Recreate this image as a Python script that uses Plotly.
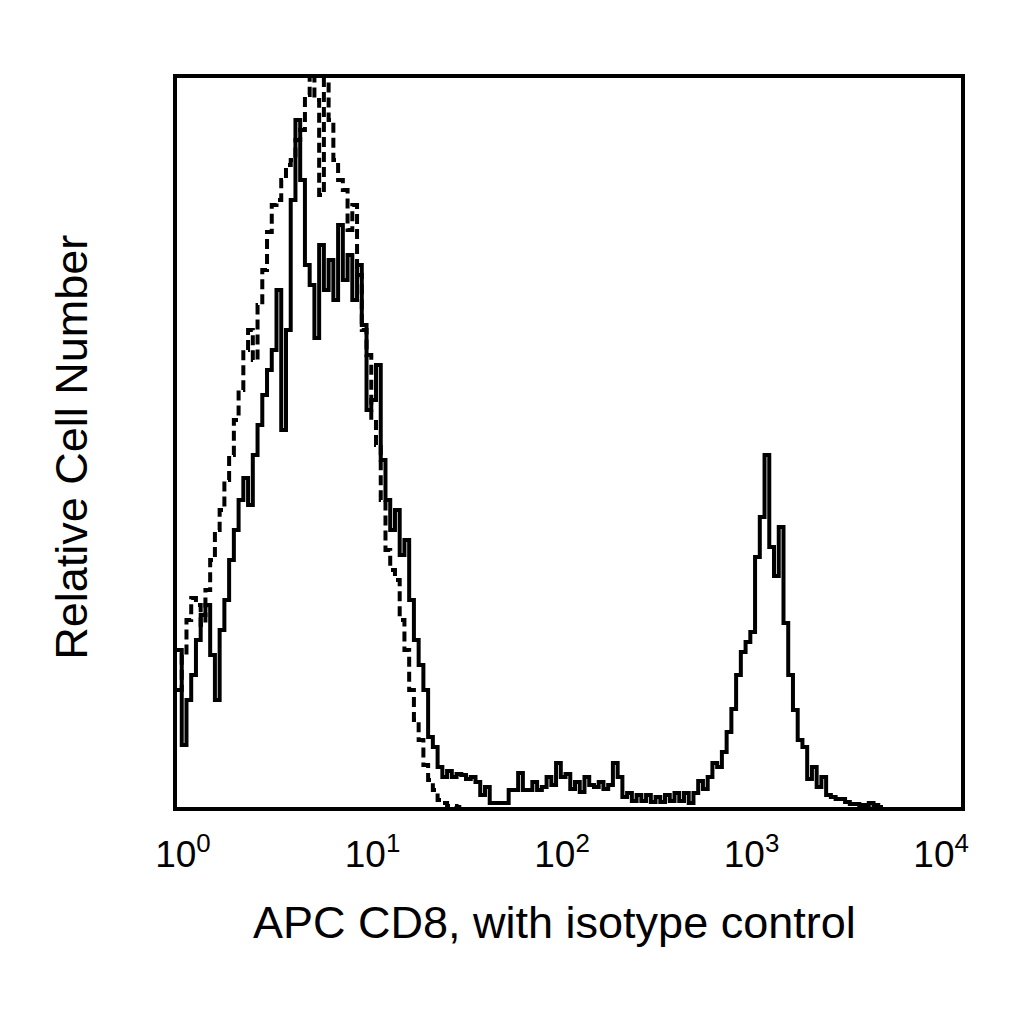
import numpy as np
import plotly.graph_objects as go

# histogram channels: log10 start of first channel and channel width
log_start = -0.0316
bin_width = 0.025

# APC CD8 stained cells (solid line), counts per channel
cd8_counts = [
    157, 62, 107, 132, 167, 192, 202, 152, 107, 177,
    207, 247, 277, 307, 329, 302, 352, 382, 412, 437,
    457, 517, 377, 477, 607, 687, 627, 542, 522, 469,
    562, 517, 547, 507, 582, 527, 552, 507, 542, 482,
    397, 407, 442, 347, 307, 277, 297, 252, 267, 207,
    167, 142, 117, 70, 60, 40, 30, 36, 30, 33,
    32, 28, 30, 25, 12, 20, 4, 4, 4, 4,
    17, 17, 34, 17, 17, 25, 17, 20, 30, 22,
    44, 30, 33, 18, 25, 15, 30, 22, 20, 25,
    18, 22, 44, 30, 10, 14, 6, 12, 6, 12,
    5, 10, 5, 12, 6, 14, 6, 14, 4, 14,
    26, 18, 30, 44, 40, 55, 75, 98, 132, 155,
    165, 175, 250, 290, 352, 260, 231, 280, 184, 132,
    97, 67, 60, 28, 40, 20, 30, 12, 10, 8,
    8, 5, 3, 3, 2, 2, 4, 2, 0,
]

# isotype control (dashed line), counts per channel
isotype_counts = [
    117, 152, 187, 209, 202, 182, 217, 247, 277, 297,
    327, 352, 387, 417, 457, 477, 447, 502, 537, 575,
    602, 607, 627, 642, 647, 667, 677, 712, 735, 707,
    612, 735, 687, 647, 627, 617, 577, 602, 532, 477,
    452, 387, 362, 307, 257, 237, 227, 187, 157, 117,
    87, 67, 42, 27, 17, 7, 4, 1, 1, 0,
]

tick_vals = [1, 10, 100, 1000, 10000]
tick_text = ["10<sup>0</sup>", "10<sup>1</sup>", "10<sup>2</sup>",
             "10<sup>3</sup>", "10<sup>4</sup>"]


def step_xy(counts):
    # left edge of every channel, plus the closing right edge
    edges = log_start + bin_width * np.arange(len(counts) + 1)
    return 10 ** edges, list(counts) + [counts[-1]]


fig = go.Figure()

x_iso, y_iso = step_xy(isotype_counts)
fig.add_trace(go.Scatter(
    x=x_iso, y=y_iso, mode="lines", line_shape="hv",
    line=dict(color="black", width=4, dash="10px,5px"),
    name="isotype control",
))

x_cd8, y_cd8 = step_xy(cd8_counts)
fig.add_trace(go.Scatter(
    x=x_cd8, y=y_cd8, mode="lines", line_shape="hv",
    line=dict(color="black", width=4),
    name="APC CD8",
))

font_name = "Liberation Sans, Arial, sans-serif"

# page body adds 8px, so the figure is a bit smaller than the window
fig.update_layout(
    width=1016, height=1016,
    margin=dict(l=169, r=63, t=70, b=217),
    paper_bgcolor="white", plot_bgcolor="white",
    showlegend=False,
    font=dict(family=font_name, color="black"),
    annotations=[
        dict(text="APC CD8, with isotype control", x=0.482, y=-0.159,
             xref="paper", yref="paper", showarrow=False,
             xanchor="center", yanchor="middle",
             font=dict(size=45, family=font_name, color="black")),
        dict(text="Relative Cell Number", x=-0.134, y=0.494,
             xref="paper", yref="paper", showarrow=False, textangle=-90,
             xanchor="center", yanchor="middle",
             font=dict(size=45, family=font_name, color="black")),
    ],
)

fig.update_xaxes(
    type="log", range=[log_start, 4.105],
    showline=True, linewidth=4, linecolor="black", mirror=True,
    showgrid=False, zeroline=False, ticks="",
    tickvals=tick_vals, ticktext=tick_text, ticklabelstandoff=12,
    tickfont=dict(size=37, family=font_name, color="black"),
)
fig.update_yaxes(
    range=[0, 729],
    showline=True, linewidth=4, linecolor="black", mirror=True,
    showgrid=False, zeroline=False, ticks="", showticklabels=False,
)

fig.write_html("out.html")
